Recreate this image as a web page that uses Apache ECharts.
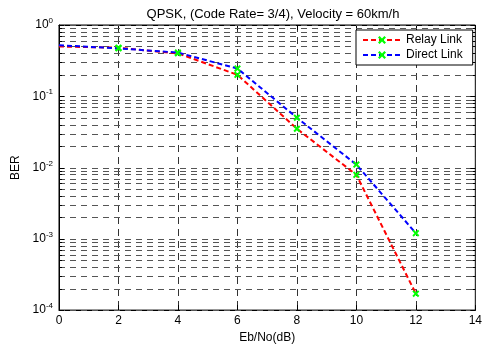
<!DOCTYPE html>
<html>
<head>
<meta charset="utf-8">
<script src="https://cdn.jsdelivr.net/npm/echarts@6/dist/echarts.min.js"></script>
<style>
  html, body { margin: 0; padding: 0; background: #fff; }
  #chart { width: 485px; height: 349px; }
</style>
</head>
<body>
<div id="chart"></div>
<script>
const ebNo = [0, 2, 4, 6, 8, 10, 12]
const relayBer = [0.50, 0.48, 0.40, 0.20, 0.035, 0.0079, 0.00017]
const directBer = [0.52, 0.47, 0.41, 0.245, 0.050, 0.011, 0.0012]
const decades = [1e-4, 1e-3, 1e-2, 1e-1]
const minorSteps = [1, 2, 3, 4, 5, 6, 7, 8, 9]

const font = "'Liberation Sans', Arial, sans-serif"
const crossMark = "path://M0,2L2,0L5,3L8,0L10,2L7,5L10,8L8,10L5,7L2,10L0,8L3,5Z"

// log grid lines + ticks on both sides, one row per value
const yGridRows = []
decades.forEach((d) => minorSteps.forEach((k) => yGridRows.push([0, k * d, k === 1 ? 1 : 0])))
yGridRows.push([0, 1, 1])

function points(ys) {
  return ebNo.map((x, i) => (i === 0 ? { value: [x, ys[i]], symbol: "none" } : [x, ys[i]]))
}

function renderGrid(params, api) {
  const cs = params.coordSys
  const y = Math.round(api.coord([0, api.value(1)])[1]) + 0.5
  const tick = api.value(2) ? 5 : 3
  const left = cs.x
  const right = cs.x + cs.width
  return {
    type: "group",
    children: [
      {
        type: "line",
        shape: { x1: left, y1: y, x2: right, y2: y },
        style: { stroke: "#555", lineWidth: 1, lineDash: [6, 5] },
      },
      {
        type: "line",
        shape: { x1: left, y1: y, x2: left + tick, y2: y },
        style: { stroke: "#000", lineWidth: 1 },
      },
      {
        type: "line",
        shape: { x1: right - tick, y1: y, x2: right, y2: y },
        style: { stroke: "#000", lineWidth: 1 },
      },
    ],
  }
}

const chart = echarts.init(document.getElementById("chart"), null, { renderer: "canvas" })

chart.setOption({
  animation: false,
  textStyle: { fontFamily: font, color: "#000" },
  title: {
    text: "QPSK, (Code Rate= 3/4), Velocity = 60km/h",
    left: 268,
    top: 3,
    textAlign: "center",
    textStyle: { fontSize: 13, fontWeight: "normal", color: "#000", fontFamily: font },
  },
  grid: {
    left: 59, right: 9, top: 25, bottom: 35,
    show: true, borderColor: "#000", borderWidth: 1, backgroundColor: "#fff",
  },
  legend: {
    data: ["Relay Link", "Direct Link"],
    orient: "vertical",
    left: 356,
    top: 30,
    itemWidth: 38,
    itemHeight: 10,
    itemGap: 3,
    padding: [4, 10, 4, 6],
    backgroundColor: "#fff",
    borderColor: "#000",
    borderWidth: 1,
    borderRadius: 0,
    textStyle: { fontSize: 12, color: "#000", fontFamily: font },
  },
  xAxis: [
    {
      type: "value",
      min: 0,
      max: 14,
      interval: 2,
      name: "Eb/No(dB)",
      nameLocation: "middle",
      nameGap: 18,
      nameTextStyle: { fontSize: 12, color: "#000" },
      axisLine: { lineStyle: { color: "#000", width: 1 } },
      axisTick: { inside: true, length: 5, lineStyle: { color: "#000" } },
      axisLabel: { fontSize: 12, color: "#000", margin: 5 },
      splitLine: { show: true, lineStyle: { color: "#333", type: [7, 5], width: 1 } },
    },
    {
      type: "value",
      position: "top",
      min: 0,
      max: 14,
      interval: 2,
      axisLine: { lineStyle: { color: "#000", width: 1 } },
      axisTick: { inside: true, length: 5, lineStyle: { color: "#000" } },
      axisLabel: { show: false },
      splitLine: { show: false },
    },
  ],
  yAxis: {
    type: "log",
    logBase: 10,
    min: 1e-4,
    max: 1,
    name: "BER",
    nameLocation: "middle",
    nameGap: 35,
    nameTextStyle: { fontSize: 12, color: "#000" },
    axisLine: { show: true, lineStyle: { color: "#000", width: 1 } },
    axisTick: { show: false },
    splitLine: { show: false },
    axisLabel: {
      margin: 6,
      formatter: (v) => "{b|10}{e|" + Math.round(Math.log10(v)) + "}",
      rich: {
        b: { fontSize: 12, color: "#000", fontFamily: font },
        e: { fontSize: 8, color: "#000", fontFamily: font, padding: [0, 0, 8, 0] },
      },
    },
  },
  series: [
    {
      type: "custom",
      name: "grid",
      silent: true,
      z: 1,
      renderItem: renderGrid,
      encode: { x: 0, y: 1 },
      data: yGridRows,
    },
    {
      name: "Relay Link",
      type: "line",
      z: 3,
      data: points(relayBer),
      symbol: crossMark,
      symbolSize: 7,
      showAllSymbol: true,
      itemStyle: { color: "#00ff00" },
      lineStyle: { color: "#ff0000", width: 2, type: [5, 3] },
    },
    {
      name: "Direct Link",
      type: "line",
      z: 4,
      data: points(directBer),
      symbol: crossMark,
      symbolSize: 7,
      showAllSymbol: true,
      itemStyle: { color: "#00ff00" },
      lineStyle: { color: "#0000ff", width: 2, type: [5, 3] },
    },
  ],
})
</script>
</body>
</html>
